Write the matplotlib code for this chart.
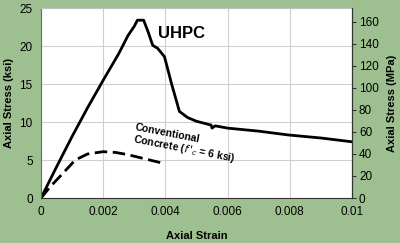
import numpy as np
import matplotlib
matplotlib.use("Agg")
from matplotlib import pyplot as plt

# UHPC stress-strain curve (ksi)
uhpc_strain = [0.0, 0.0005, 0.001, 0.0015, 0.002, 0.0025, 0.0028, 0.0030,
               0.0031, 0.0033, 0.00345, 0.00359, 0.00375, 0.00397, 0.0042, 0.00445,
               0.00471, 0.0050, 0.00547, 0.0055, 0.0056, 0.006, 0.007, 0.00795, 0.009, 0.0100]
uhpc_stress = [0.0, 4.1, 8.1, 11.9, 15.5, 19.0, 21.4, 22.6,
               23.4, 23.4, 21.8, 20.1, 19.7, 18.6, 15.0, 11.4,
               10.6, 10.1, 9.6, 9.2, 9.5, 9.2, 8.8, 8.3, 7.9, 7.4]

# conventional concrete (f'c = 6 ksi)
conv_strain = [0.0, 0.0003, 0.0006, 0.0011, 0.0015, 0.002, 0.0024, 0.0028, 0.0035, 0.004]
conv_stress = [0.0, 1.5, 2.8, 5.0, 5.8, 6.1, 6.0, 5.7, 5.0, 4.5]

xticks = [0, 0.002, 0.004, 0.006, 0.008, 0.01]
xtick_labels = ["0", "0.002", "0.004", "0.006", "0.008", "0.01"]
ksi_ticks = [0, 5, 10, 15, 20, 25]
mpa_ticks = [0, 20, 40, 60, 80, 100, 120, 140, 160]
ksi_to_mpa = 6.895

bg = "#9ec090"
plt.rcParams['font.family'] = 'Liberation Sans'

fig = plt.figure(figsize=(4, 2.43), dpi=100, facecolor=bg)
ax = fig.add_axes([0.1025, 0.185, 0.7775, 0.782])
ax.set_facecolor("white")

ax.plot(uhpc_strain, uhpc_stress, color="black", lw=2.0, solid_joinstyle="round")
ax.plot(conv_strain, conv_stress, color="black", lw=2.0, ls=(0, (4.5, 2)))

ax.set_xlim(0, 0.01)
ax.set_ylim(0, 25)
ax.set_xticks(xticks)
ax.set_xticklabels(xtick_labels)
ax.set_yticks(ksi_ticks)
ax.grid(color="#d0d0d0", lw=0.8)
ax.set_axisbelow(True)
ax.tick_params(labelsize=8.5, length=0, pad=6)
ax.spines["left"].set_color("#5a7a50")
ax.spines["top"].set_color("#c0c0c0")
ax.spines["bottom"].set_color("#333333")
ax.spines["right"].set_color("#333333")

ax.set_xlabel("Axial Strain", fontsize=8, fontweight="bold", labelpad=9)
ax.set_ylabel("Axial Stress (ksi)", fontsize=8, fontweight="bold", labelpad=4)

ax2 = ax.twinx()
ax2.set_ylim(0, 25 * ksi_to_mpa)
ax2.set_yticks(mpa_ticks)
ax2.tick_params(labelsize=8.5, length=3, direction="out", pad=2, color="#333333")
for s in ["left", "top", "bottom"]:
    ax2.spines[s].set_visible(False)
ax2.spines["right"].set_color("#333333")
ax2.set_ylabel("Axial Stress (MPa)", fontsize=8, fontweight="bold", labelpad=6)

ax.text(0.00375, 21.7, "UHPC", fontsize=12, fontweight="bold", va="center")
ax.text(0.00292, 6.8, "Conventional\nConcrete ($\\mathbf{\\it{f\\,'_{c}}}$ = 6 ksi)",
        fontsize=7.5, fontweight="bold", rotation=-11, rotation_mode="anchor",
        linespacing=1.05, va="bottom", ha="left")

plt.savefig("out.png", dpi=100, facecolor=bg)
